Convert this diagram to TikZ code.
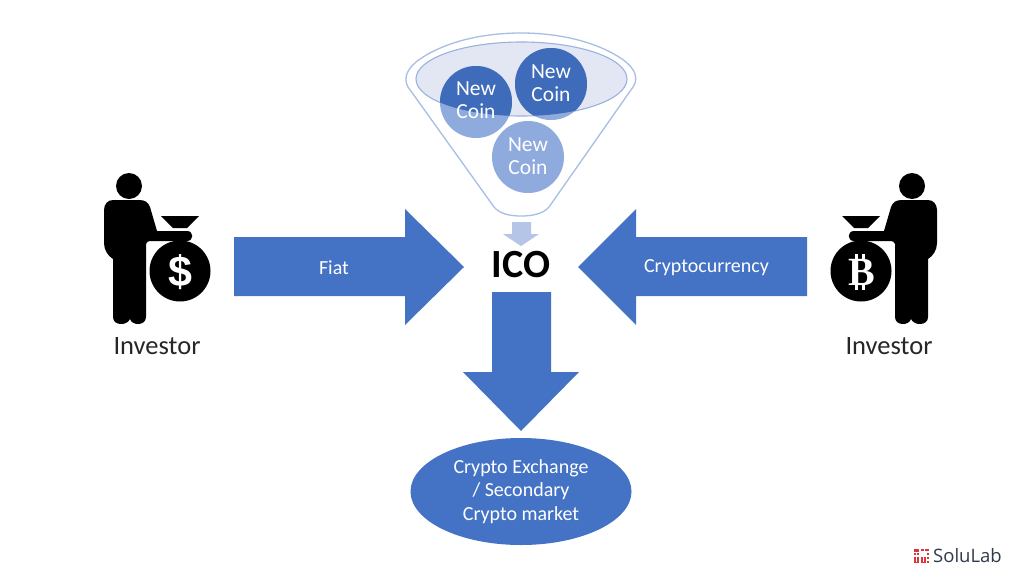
\documentclass[tikz,border=0pt]{standalone}
\usepackage{fontspec}
\setmainfont{Carlito}
\newfontfamily\logofont{Open Sans}
\newfontfamily\symfont{Liberation Sans}
\newfontfamily\bitfont{Liberation Serif}
\usetikzlibrary{shapes.geometric}
\definecolor{blockblue}{HTML}{4472C4}
\definecolor{coinlight}{HTML}{8FAADC}
\definecolor{coindark}{HTML}{3F6BBB}
\definecolor{funnelline}{HTML}{A9BEE4}
\definecolor{bowlfill}{HTML}{E3E7F3}
\definecolor{smallarrow}{HTML}{B4C5E7}
\definecolor{logored}{HTML}{D9363A}
\definecolor{logotext}{HTML}{2F3B4C}
\tikzset{
  block/.style={fill=blockblue,draw=none},
  blocklabel/.style={text=white,font=\fontsize{20}{23.5}\selectfont,align=center,inner sep=0pt},
  coinlabel/.style={text=white,font=\fontsize{21.5}{23.5}\selectfont,align=center,inner sep=0pt},
  investorlabel/.style={text=black!85,font=\fontsize{26.5}{29}\selectfont,inner sep=0pt},
  silhouette/.style={fill=black,draw=none},
}
\newcommand{\investorshape}{%
  \fill[silhouette] (129,186) circle (13);
  \fill[silhouette] (113,200) -- (139,200)
     .. controls (145,200) and (148,202) .. (150,207)
     -- (157,231) -- (187,231)
     .. controls (194,231) and (194,241) .. (187,241)
     -- (150,241) .. controls (148,241) and (147,242) .. (146,244)
     -- (146,317) .. controls (146,326) and (132,326) .. (130,319)
     .. controls (127,326) and (113,326) .. (113,317)
     -- (113,259) .. controls (108,256) and (104,250) .. (104,243)
     -- (104,210) .. controls (104,204) and (108,200) .. (113,200) -- cycle;
  \fill[silhouette] (161,216) -- (199,216) -- (187,228) -- (173,228) -- cycle;
  \fill[silhouette] (180,271) circle (30.5);
}
\begin{document}
\begin{tikzpicture}[x=1pt,y=-1pt]
\useasboundingbox (0,0) rectangle (1024,576);
\fill[white] (0,0) rectangle (1024,576);

% funnel
\draw[funnelline,line width=1.3pt,fill=white]
  (408,87) .. controls (403,78) and (407,68) .. (420,59)
  .. controls (445,42) and (482,33) .. (521,33)
  .. controls (560,33) and (597,42) .. (622,59)
  .. controls (635,68) and (639,78) .. (633,87)
  -- (549,207) .. controls (543,214) and (532,216) .. (521,216)
  .. controls (510,216) and (500,214) .. (494,207) -- cycle;
\draw[funnelline!85!blockblue,line width=1.1pt,fill=bowlfill] (521.5,79) ellipse (105.5 and 37);

% coins
\fill[coinlight] (476,102) circle (36);
\fill[coinlight] (551,84) circle (36);
\fill[coinlight] (528,157) circle (36);
\begin{scope}
  \clip (521.5,79) ellipse (105.5 and 37);
  \fill[coindark] (476,102) circle (36);
  \fill[coindark] (551,84) circle (36);
\end{scope}
\node[coinlabel] (coinA) at (476,100) {New\\Coin};
\node[coinlabel] (coinB) at (551,83) {New\\Coin};
\node[coinlabel] (coinC) at (528,156) {New\\Coin};

% small arrow
\fill[smallarrow] (512,222) -- (531,222) -- (531,234) -- (539,234) -- (521,246) -- (503,234) -- (512,234) -- cycle;

% block arrows
\fill[block] (234,237) -- (405,237) -- (405,209) -- (464,267) -- (405,325) -- (405,296) -- (234,296) -- cycle;
\fill[block] (807,237) -- (636,237) -- (636,209) -- (578,267) -- (636,325) -- (636,296) -- (807,296) -- cycle;
\fill[block] (492,292) -- (551,292) -- (551,372) -- (579,372) -- (521,431) -- (463,372) -- (492,372) -- cycle;
\node[blocklabel] (fiat) at (334,267.5) {Fiat};
\node[blocklabel] (crypto) at (706.5,267.5) {Cryptocurrency};
\node[font=\bfseries\fontsize{40}{44}\selectfont,inner sep=0pt] (ico) at (521,265) {ICO};

% exchange
\node[ellipse,block,minimum width=221pt,minimum height=107pt,inner sep=0pt,blocklabel] (exchange) at (521,491.5)
  {Crypto Exchange\\/ Secondary\\Crypto market};

% left investor
\investorshape
\node[text=white,font=\symfont\bfseries\fontsize{43}{43}\selectfont,inner sep=0pt] (dollar) at (180,272) {\$};
\node[investorlabel] (investorL) at (157,346) {Investor};

% right investor
\begin{scope}[shift={(1041,0)},xscale=-1]
  \investorshape
\end{scope}
\node[text=white,font=\bitfont\bfseries\fontsize{40}{40}\selectfont,inner sep=0pt] (bitcoin) at (862,272) {B};
\fill[white] (855,254) rectangle (858,260);
\fill[white] (861.5,254) rectangle (864.5,260);
\fill[white] (855,284) rectangle (858,290);
\fill[white] (861.5,284) rectangle (864.5,290);
\node[investorlabel] (investorR) at (889,346) {Investor};

% logo
\begin{scope}[logored]
  \fill (914,549) rectangle (919,551.5);
  \fill (914,552.5) rectangle (916,555);
  \fill (917,552.5) rectangle (919,555);
  \fill (920.5,549) rectangle (924,551);
  \fill (925,549) rectangle (929,551);
  \fill (914,556.5) rectangle (916,563);
  \fill (917,556.5) rectangle (919,563);
  \fill (914,561.5) rectangle (919,563);
  \fill (921,556.5) rectangle (923,563);
  \fill (924,556.5) rectangle (926,563);
  \fill (921,561.5) rectangle (926,563);
  \fill (927,553) rectangle (929,555);
  \fill (927,557) rectangle (929,559);
  \fill (927,561) rectangle (929,563);
\end{scope}
\node[text=logotext,font=\logofont\fontsize{18.5}{20}\selectfont,inner sep=0pt,anchor=west] (logo) at (933,556) {SoluLab};
\end{tikzpicture}
\end{document}
